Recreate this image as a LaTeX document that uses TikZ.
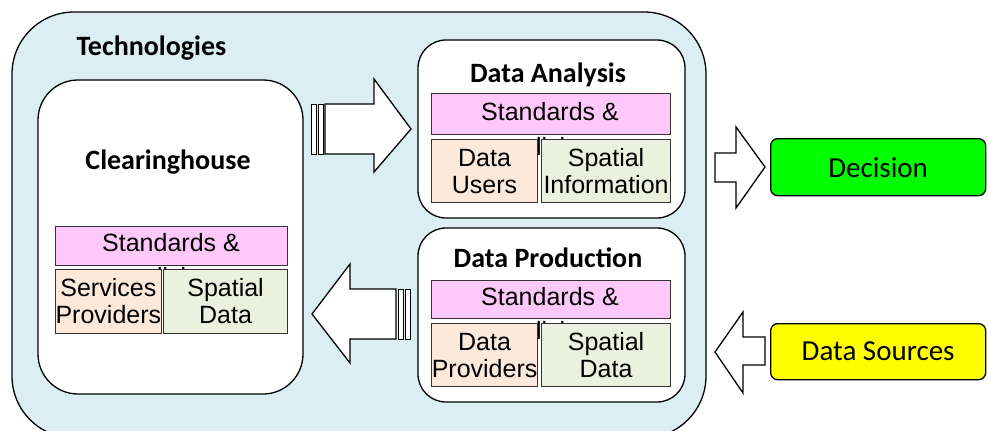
\documentclass[tikz,border=0pt]{standalone}
\usepackage{fontspec}
\setmainfont{Liberation Sans}
\newfontfamily\calibri{Carlito}
\begin{document}
\begin{tikzpicture}[x=1pt,y=-1pt,
  frame/.style={draw=black,line width=1.3pt},
  panel/.style={frame,fill=white,rounded corners=28pt},
  cell/.style={draw=black!80,line width=1.1pt,inner sep=0pt,align=center,
    font=\fontsize{25}{27}\selectfont},
  policy/.style={cell,fill={rgb,255:red,255;green,200;blue,250}},
  actor/.style={cell,fill={rgb,255:red,253;green,233;blue,217}},
  info/.style={cell,fill={rgb,255:red,235;green,241;blue,222}},
  label/.style={font=\fontsize{25}{27}\selectfont,inner sep=0pt,anchor=base},
  heading/.style={font=\calibri\bfseries\fontsize{28}{30}\selectfont},
  outcome/.style={frame,rounded corners=7pt,inner sep=0pt,
    font=\calibri\fontsize{29}{31}\selectfont},
  blockarrow/.style={frame,fill=white,line width=1.3pt,line join=miter},
  stripe/.style={draw=black,fill=white,line width=0.9pt}]
\useasboundingbox (0,0) rectangle (988,431);
\clip (0,0) rectangle (988,431);

% outer technology frame
\draw[frame,rounded corners=62pt,fill={rgb,255:red,218;green,238;blue,243}]
  (12,12) rectangle (706,438);
\node[heading,anchor=west] (tech) at (73,48) {Technologies};

% clearinghouse panel
\draw[panel,rounded corners=40pt] (38,80) rectangle (303,394);
\node[heading] (clear) at (168,162) {Clearinghouse};
\node[label] (chpol) at (171,285) {policies};
\node[policy,minimum width=232pt,minimum height=39pt,anchor=north west] (chstd) at (55,226) {};
\node[label] (chstdtxt) at (171,251) {Standards \&};
\node[actor,minimum width=105pt,minimum height=64pt,anchor=north west] (chsrv) at (55,269) {Services\\Providers};
\node[info,minimum width=124pt,minimum height=64pt,anchor=north west] (chdat) at (163,269) {Spatial\\Data};

% data analysis panel
\draw[panel] (418,40) rectangle (685,218);
\node[heading] (ana) at (548,75) {Data Analysis};
\node[label] (anpol) at (550,155) {policies};
\node[policy,minimum width=239pt,minimum height=41pt,anchor=north west] (anstd) at (431,93) {};
\node[label] (anstdtxt) at (550,120) {Standards \&};
\node[actor,minimum width=106pt,minimum height=63pt,anchor=north west] (anusr) at (431,139) {Data\\Users};
\node[info,minimum width=129pt,minimum height=63pt,anchor=north west] (aninf) at (541,139) {Spatial\\Information};

% data production panel
\draw[panel] (418,228) rectangle (685,402);
\node[heading] (prod) at (548,258) {Data Production};
\node[label] (prpol) at (550,339) {policies};
\node[policy,minimum width=239pt,minimum height=38pt,anchor=north west] (prstd) at (431,280) {};
\node[label] (prstdtxt) at (550,305) {Standards \&};
\node[actor,minimum width=106pt,minimum height=63pt,anchor=north west] (prprv) at (431,323) {Data\\Providers};
\node[info,minimum width=129pt,minimum height=63pt,anchor=north west] (prdat) at (541,323) {Spatial\\Data};

% striped block arrow: clearinghouse -> data analysis
\draw[stripe] (311,104) rectangle (316,154);
\draw[stripe] (318,104) rectangle (323,154);
\draw[blockarrow] (325,104) -- (374,104) -- (374,79) -- (411,129) -- (374,172)
  -- (374,154) -- (325,154) -- cycle;

% striped block arrow: data production -> clearinghouse
\draw[stripe] (398,289) rectangle (403,339);
\draw[stripe] (405,289) rectangle (410,339);
\draw[blockarrow] (396,289) -- (350,289) -- (350,264) -- (312,314) -- (350,363)
  -- (350,339) -- (396,339) -- cycle;

% external outcome and input
\node[outcome,fill={rgb,255:red,0;green,255;blue,0},minimum width=215pt,minimum height=57pt,anchor=north west]
  (dec) at (770,138) {Decision};
\node[outcome,fill={rgb,255:red,255;green,255;blue,0},minimum width=215pt,minimum height=56pt,anchor=north west]
  (src) at (770,323) {Data Sources};

\draw[blockarrow] (715,153) -- (736,153) -- (736,127) -- (765,167) -- (736,208)
  -- (736,182) -- (715,182) -- cycle;
\draw[blockarrow] (765,337) -- (743,337) -- (743,312) -- (715,352) -- (743,393)
  -- (743,365) -- (765,365) -- cycle;
\end{tikzpicture}
\end{document}
